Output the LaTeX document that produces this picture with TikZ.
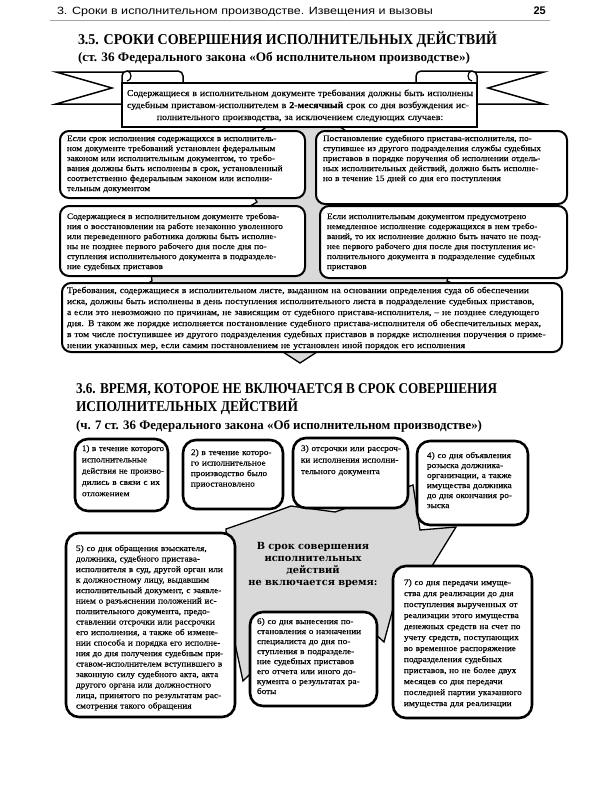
\documentclass[tikz,border=0pt]{standalone}
\usepackage{fontspec}
\usepackage{graphicx}
\setmainfont{Liberation Serif}
\newfontfamily\hdrfont{Liberation Sans}
\newfontfamily\wserif[FakeStretch=1.1,FakeBold=0.3]{Liberation Serif}
\newfontfamily\bserif[FakeStretch=1.1,FakeBold=0.3]{Liberation Serif}
\newfontfamily\ctrfont{DejaVu Serif}
\newcommand\jl[1]{\noindent\setbox0=\hbox{#1}\ifdim\wd0>\linewidth\resizebox{\linewidth}{\height}{\copy0}\else\hbox to\linewidth{#1}\fi\par}
\newcommand\rl[1]{\noindent\setbox0=\hbox{#1}\ifdim\wd0>\linewidth\resizebox{\linewidth}{\height}{\copy0}\else\copy0\fi\par}
\newcommand\cl[1]{\noindent\setbox0=\hbox{#1}\ifdim\wd0>\linewidth\resizebox{\linewidth}{\height}{\copy0}\else\hbox to\linewidth{\hfil\copy0\hfil}\fi\par}
\newcommand\fitw[2]{\resizebox{#1}{\height}{#2}}
\begin{document}
\begin{tikzpicture}[x=1pt,y=-1pt,
  sbox/.style={draw=black,line width=2pt,fill=white,rounded corners=9pt},
  cbox/.style={draw=black,line width=2.6pt,fill=white,rounded corners=13pt},
  greyshape/.style={fill=black!15,draw=black,line width=1.3pt,line join=miter},
  bann/.style={fill=white,draw=black,line width=1.5pt,line join=miter},
  txt/.style={anchor=base west,inner sep=0pt,outer sep=0pt},
  sfont/.style={font=\wserif\fontsize{8.3}{10}\selectfont},
  efont/.style={font=\wserif\fontsize{8.7}{11}\selectfont},
  cfont/.style={font=\wserif\fontsize{8.4}{#1}\selectfont}]
\fill[white] (0,0) rectangle (600,800);
\useasboundingbox (0,0) rectangle (600,800);

% header
\node[txt,font=\hdrfont\fontsize{10.5}{12}\selectfont] (hd) at (57,15) {\fitw{376pt}{3. Сроки в исполнительном производстве. Извещения и вызовы}};
\node[anchor=base east,inner sep=0pt,font=\hdrfont\bfseries\fontsize{11}{12}\selectfont] (pg) at (546,15) {25};
\draw[gray!70,line width=1pt] (50,21) -- (550,21);

% titles
\node[txt,font=\bfseries\fontsize{15}{16}\selectfont] (t1) at (78,45) {\fitw{419pt}{3.5. СРОКИ СОВЕРШЕНИЯ ИСПОЛНИТЕЛЬНЫХ ДЕЙСТВИЙ}};
\node[txt,font=\bfseries\fontsize{13}{14}\selectfont] (t2) at (78,62) {\fitw{392pt}{(ст. 36 Федерального закона «Об исполнительном производстве»)}};

% grey background shape section 1
\draw[greyshape] (276,120) -- (330,120) -- (352,135) -- (482,205) -- (470,212) -- (447,281)
  -- (540,320) -- (320,350) -- (300,363) -- (280,350) -- (80,320) -- (152,281) -- (150,265)
  -- (257,202) -- (250,190) -- (258,133) -- cycle;

% boxes section 1
\draw[sbox] (60,131) rectangle (305,198);
\draw[sbox] (316,131) rectangle (567,204);
\draw[sbox] (60,206) rectangle (305,276);
\draw[sbox] (320,206) rectangle (567,278);
\draw[sbox] (62,283) rectangle (562,352);

% banner
\draw[bann] (56,72) -- (130,72) -- (130,104) -- (56,104) -- (112,88) -- cycle;
\draw[bann] (544,72) -- (470,72) -- (470,104) -- (544,104) -- (488,88) -- cycle;
\draw[bann] (122,90) -- (122,76) to[out=90,in=180] (127,71) -- (178,71) to[out=0,in=90] (183,76) -- (183,90) -- cycle;
\draw[line width=1.2pt] (127,71) to[out=0,in=90] (131,76) to[out=-90,in=0] (127,81);
\draw[bann] (477,90) -- (477,76) to[out=90,in=0] (472,71) -- (421,71) to[out=180,in=90] (416,76) -- (416,90) -- cycle;
\draw[line width=1.2pt] (472,71) to[out=180,in=90] (468,76) to[out=-90,in=180] (472,81);
\draw[bann] (122,83) rectangle (477,127);
\node[txt,text width=346pt,font=\bserif\fontsize{9}{12}\selectfont] (bt) at (127,96)
 {\jl{Содержащиеся в исполнительном документе требования должны быть исполнены}
  \jl{судебным приставом-исполнителем в \textbf{2-месячный} срок со дня возбуждения ис-}
  \cl{полнительного производства, за исключением следующих случаев:}};

% texts section 1
\node[txt,sfont,text width=231pt] (ta) at (67,141) {%
\jl{Если срок исполнения содержащихся в исполнитель-}
\jl{ном документе требований установлен федеральным}
\jl{законом или исполнительным документом, то требо-}
\jl{вания должны быть исполнены в срок, установленный}
\jl{соответственно федеральным законом или исполни-}
\rl{тельным документом}};
\node[txt,sfont,text width=237pt] (tb) at (323,141) {%
\jl{Постановление судебного пристава-исполнителя, по-}
\jl{ступившее из другого подразделения службы судебных}
\jl{приставов в порядке поручения об исполнении отдель-}
\jl{ных исполнительных действий, должно быть исполне-}
\rl{но в течение 15 дней со дня его поступления}};
\node[txt,sfont,text width=231pt] (tc) at (67,219) {%
\jl{Содержащиеся в исполнительном документе требова-}
\jl{ния о восстановлении на работе незаконно уволенного}
\jl{или переведенного работника должны быть исполне-}
\jl{ны не позднее первого рабочего дня после дня по-}
\jl{ступления исполнительного документа в подразделе-}
\rl{ние судебных приставов}};
\node[txt,sfont,text width=233pt] (td) at (327,219) {%
\jl{Если исполнительным документом предусмотрено}
\jl{немедленное исполнение содержащихся в нем требо-}
\jl{ваний, то их исполнение должно быть начато не позд-}
\jl{нее первого рабочего дня после дня поступления ис-}
\jl{полнительного документа в подразделение судебных}
\rl{приставов}};
\node[txt,efont,text width=489pt] (te) at (67,293) {%
\jl{Требования, содержащиеся в исполнительном листе, выданном на основании определения суда об обеспечении}
\jl{иска, должны быть исполнены в день поступления исполнительного листа в подразделение судебных приставов,}
\jl{а если это невозможно по причинам, не зависящим от судебного пристава-исполнителя, – не позднее следующего}
\jl{дня. В таком же порядке исполняется постановление судебного пристава-исполнителя об обеспечительных мерах,}
\jl{в том числе поступившее из другого подразделения судебных приставов в порядке исполнения поручения о приме-}
\rl{нении указанных мер, если самим постановлением не установлен иной порядок его исполнения}};

% section 2 titles
\node[txt,font=\bfseries\fontsize{15}{16}\selectfont] (t3) at (76,393) {\fitw{421pt}{3.6. ВРЕМЯ, КОТОРОЕ НЕ ВКЛЮЧАЕТСЯ В СРОК СОВЕРШЕНИЯ}};
\node[txt,font=\bfseries\fontsize{15}{16}\selectfont] (t4) at (76,411) {\fitw{222pt}{ИСПОЛНИТЕЛЬНЫХ ДЕЙСТВИЙ}};
\node[txt,font=\bfseries\fontsize{13}{14}\selectfont] (t5) at (76,429) {\fitw{406pt}{(ч. 7 ст. 36 Федерального закона «Об исполнительном производстве»)}};

% explosion
\draw[greyshape] (226,529) -- (255,519) -- (291,506) -- (335,512) -- (413,485) -- (420,530)
  -- (456,527) -- (432,566) -- (398,590) -- (384,642) -- (360,620) -- (300,625)
  -- (243,681) -- (230,620) -- cycle;

% boxes section 2
\draw[cbox] (75,439) rectangle (168,511);
\draw[cbox] (183,440) rectangle (283,509);
\draw[cbox] (293,438) rectangle (408,508);
\draw[cbox] (417,441) rectangle (528,525);
\draw[cbox] (66,533) rectangle (235,717);
\draw[cbox] (250,612) rectangle (377,706);
\draw[cbox] (393,566) rectangle (532,718);

\node[anchor=base,inner sep=0pt,text width=160pt,align=center,font=\ctrfont\bfseries\fontsize{9.8}{12.3}\selectfont] (ct) at (313,549)
 {В срок совершения\\ исполнительных\\ действий\\ не включается время:};

\node[txt,cfont=11.3,text width=82pt] (c1) at (82,451) {%
\rl{1) в течение которого}
\rl{исполнительные}
\rl{действия не произво-}
\rl{дились в связи с их}
\rl{отложением}};
\node[txt,cfont=10.5,text width=84pt] (c2) at (191,455) {%
\jl{2) в течение которо-}
\jl{го исполнительное}
\jl{производство было}
\rl{приостановлено}};
\node[txt,cfont=11.5,text width=100pt] (c3) at (301,451) {%
\jl{3) отсрочки или рассроч-}
\jl{ки исполнения исполни-}
\rl{тельного документа}};
\node[txt,cfont=10,text width=92pt] (c4) at (427,458) {%
\jl{4) со дня объявления}
\jl{розыска должника-}
\jl{организации, а также}
\jl{имущества должника}
\jl{до дня окончания ро-}
\rl{зыска}};
\node[txt,cfont=10.5,text width=147pt] (c5) at (76,551) {%
\jl{5) со дня обращения взыскателя,}
\jl{должника, судебного пристава-}
\jl{исполнителя в суд, другой орган или}
\jl{к должностному лицу, выдавшим}
\jl{исполнительный документ, с заявле-}
\jl{нием о разъяснении положений ис-}
\jl{полнительного документа, предо-}
\jl{ставлении отсрочки или рассрочки}
\jl{его исполнения, а также об измене-}
\jl{нии способа и порядка его исполне-}
\jl{ния до дня получения судебным при-}
\jl{ставом-исполнителем вступившего в}
\jl{законную силу судебного акта, акта}
\jl{другого органа или должностного}
\jl{лица, принятого по результатам рас-}
\rl{смотрения такого обращения}};
\node[txt,cfont=10,text width=114pt] (c6) at (257,624) {%
\jl{6) со дня вынесения по-}
\jl{становления о назначении}
\jl{специалиста до дня по-}
\jl{ступления в подразделе-}
\jl{ние судебных приставов}
\jl{его отчета или иного до-}
\jl{кумента о результатах ра-}
\rl{боты}};
\node[txt,cfont=11,text width=118pt] (c7) at (404,585) {%
\rl{7) со дня передачи имуще-}
\rl{ства для реализации до дня}
\rl{поступления вырученных от}
\rl{реализации этого имущества}
\rl{денежных средств на счет по}
\rl{учету средств, поступающих}
\rl{во временное распоряжение}
\rl{подразделения судебных}
\rl{приставов, но не более двух}
\rl{месяцев со дня передачи}
\rl{последней партии указанного}
\rl{имущества для реализации}};
\end{tikzpicture}
\end{document}
